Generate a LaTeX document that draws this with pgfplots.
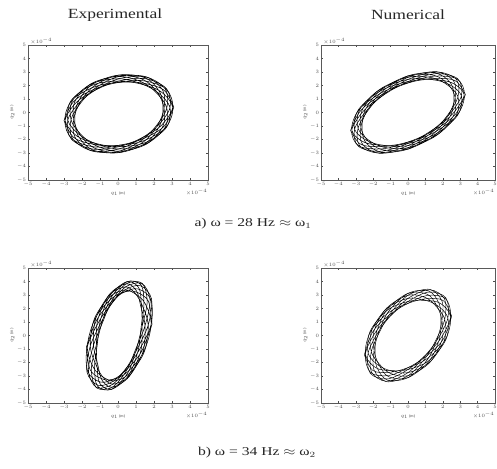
\documentclass[border=0pt]{standalone}
\usepackage{pgfplots}
\pgfplotsset{compat=1.18}
\usepackage{graphicx}
\usepackage{fontspec}
\setmainfont{Liberation Serif}

\tikzset{expo/.style={font=\fontsize{3.6}{4}\selectfont, text=black!70, inner sep=0.5pt}}
\pgfplotsset{
  phase/.style={
    scale only axis, width=180pt, height=135pt,
    anchor=south west, clip=false,
    xmin=-5, xmax=5, ymin=-5, ymax=5,
    xtick={-5,...,5}, ytick={-5,...,5},
    scaled ticks=false,
    tick align=inside, major tick length=1.6pt,
    tick style={line width=0.3pt, black!70},
    axis line style={line width=0.45pt, black!65},
    tick label style={font=\fontsize{3.6}{4}\selectfont, text=black!70},
    xticklabel style={yshift=1.5pt},
    yticklabel style={xshift=1.5pt},
    xlabel={$q_1$ (m)}, ylabel={$q_2$ (m)},
    label style={font=\fontsize{4.2}{5}\selectfont, text=black!70},
    xlabel style={yshift=1.5pt},
    ylabel style={yshift=-4pt},
    cycle list={{black}},
    every axis plot post/.append style={black, line width=0.55pt, smooth, tension=0.55, mark=none},
  },
}

\begin{document}
\begin{tikzpicture}[x=1pt,y=1pt]
\useasboundingbox (0,0) rectangle (497,468);

% --- a) experimental orbit, 28 Hz
\begin{axis}[phase, at={(28pt,288pt)}]
\addplot coordinates {
(3.10,0.40) (2.54,1.67) (1.32,2.19) (0.05,2.23) (-1.31,1.90) (-2.56,0.90) (-2.94,-0.59) (-2.28,-1.75) (-1.18,-2.31) (0.05,-2.53) (1.50,-2.24) (2.69,-1.11)
(2.89,0.37) (2.24,1.45) (1.29,2.13) (0.05,2.50) (-1.46,2.13) (-2.53,0.88) (-2.61,-0.53) (-2.07,-1.61) (-1.25,-2.44) (0.05,-2.87) (1.57,-2.35) (2.49,-1.03)
(2.56,0.31) (2.21,1.43) (1.44,2.41) (0.05,2.77) (-1.43,2.08) (-2.22,0.77) (-2.40,-0.50) (-2.22,-1.71) (-1.43,-2.76) (0.05,-2.97) (1.44,-2.15) (2.21,-0.92)
(2.56,0.31) (2.49,1.63) (1.57,2.64) (0.05,2.67) (-1.25,1.82) (-2.07,0.71) (-2.61,-0.53) (-2.53,-1.93) (-1.46,-2.83) (0.05,-2.70) (1.29,-1.92) (2.24,-0.94)
(2.89,0.37) (2.69,1.77) (1.50,2.51) (0.05,2.33) (-1.18,1.71) (-2.28,0.79) (-2.94,-0.59) (-2.56,-1.95) (-1.31,-2.55) (0.05,-2.43) (1.32,-1.98) (2.54,-1.05)
(3.10,0.40)
};
\addplot coordinates {
(-3.00,-0.60) (-2.44,-1.87) (-1.22,-2.39) (0.05,-2.43) (1.41,-2.10) (2.66,-1.10) (3.04,0.39) (2.38,1.55) (1.28,2.11) (0.05,2.33) (-1.40,2.04) (-2.59,0.91)
(-2.79,-0.57) (-2.14,-1.65) (-1.19,-2.33) (0.05,-2.70) (1.56,-2.33) (2.63,-1.08) (2.71,0.33) (2.17,1.41) (1.35,2.24) (0.05,2.67) (-1.47,2.15) (-2.39,0.83)
(-2.46,-0.51) (-2.11,-1.63) (-1.34,-2.61) (0.05,-2.97) (1.53,-2.28) (2.32,-0.97) (2.50,0.30) (2.32,1.51) (1.53,2.56) (0.05,2.77) (-1.34,1.95) (-2.11,0.72)
(-2.46,-0.51) (-2.39,-1.83) (-1.47,-2.84) (0.05,-2.87) (1.35,-2.02) (2.17,-0.91) (2.71,0.33) (2.63,1.73) (1.56,2.63) (0.05,2.50) (-1.19,1.72) (-2.14,0.74)
(-2.79,-0.57) (-2.59,-1.97) (-1.40,-2.71) (0.05,-2.53) (1.28,-1.91) (2.38,-0.99) (3.04,0.39) (2.66,1.75) (1.41,2.35) (0.05,2.23) (-1.22,1.78) (-2.44,0.85)
(-3.00,-0.60)
};
\node[expo, anchor=south west] at (rel axis cs:0.01,1) {$\times10^{-4}$};
\node[expo, anchor=north east] at (rel axis cs:1,0) [yshift=-8pt] {$\times10^{-4}$};
\end{axis}

% --- a) numerical orbit, 28 Hz
\begin{axis}[phase, at={(321pt,288pt)}, width=174pt,
  every axis plot post/.append style={line width=0.5pt}]
\addplot coordinates {
(3.30,1.33) (2.69,2.37) (1.38,2.52) (0,2.19) (-1.47,1.50) (-2.82,0.20) (-3.23,-1.31) (-2.51,-2.21) (-1.32,-2.43) (0,-2.29) (1.57,-1.61) (2.85,-0.21)
(3.07,1.24) (2.36,2.08) (1.34,2.45) (0,2.45) (-1.64,1.68) (-2.78,0.20) (-2.87,-1.16) (-2.29,-2.02) (-1.40,-2.57) (0,-2.61) (1.65,-1.69) (2.63,-0.19)
(2.71,1.09) (2.33,2.05) (1.50,2.75) (0,2.71) (-1.59,1.63) (-2.46,0.18) (-2.64,-1.07) (-2.46,-2.16) (-1.59,-2.92) (0,-2.71) (1.50,-1.54) (2.33,-0.17)
(2.71,1.09) (2.63,2.32) (1.65,3.02) (0,2.61) (-1.40,1.44) (-2.29,0.17) (-2.87,-1.16) (-2.78,-2.45) (-1.64,-3.00) (0,-2.45) (1.34,-1.37) (2.36,-0.17)
(3.07,1.24) (2.85,2.51) (1.57,2.87) (0,2.29) (-1.32,1.36) (-2.51,0.18) (-3.23,-1.31) (-2.82,-2.48) (-1.47,-2.69) (0,-2.19) (1.38,-1.41) (2.69,-0.19)
(3.30,1.33)
};
\addplot coordinates {
(-3.30,-1.33) (-2.69,-2.37) (-1.38,-2.52) (0,-2.19) (1.47,-1.50) (2.82,-0.20) (3.23,1.31) (2.51,2.21) (1.32,2.43) (0,2.29) (-1.57,1.61) (-2.85,0.21)
(-3.07,-1.24) (-2.36,-2.08) (-1.34,-2.45) (0,-2.45) (1.64,-1.68) (2.78,-0.20) (2.87,1.16) (2.29,2.02) (1.40,2.57) (0,2.61) (-1.65,1.69) (-2.63,0.19)
(-2.71,-1.09) (-2.33,-2.05) (-1.50,-2.75) (0,-2.71) (1.59,-1.63) (2.46,-0.18) (2.64,1.07) (2.46,2.16) (1.59,2.92) (0,2.71) (-1.50,1.54) (-2.33,0.17)
(-2.71,-1.09) (-2.63,-2.32) (-1.65,-3.02) (0,-2.61) (1.40,-1.44) (2.29,-0.17) (2.87,1.16) (2.78,2.45) (1.64,3.00) (0,2.45) (-1.34,1.37) (-2.36,0.17)
(-3.07,-1.24) (-2.85,-2.51) (-1.57,-2.87) (0,-2.29) (1.32,-1.36) (2.51,-0.18) (3.23,1.31) (2.82,2.48) (1.47,2.69) (0,2.19) (-1.38,1.41) (-2.69,0.19)
(-3.30,-1.33)
};
\node[expo, anchor=south west] at (rel axis cs:0.01,1) {$\times10^{-4}$};
\node[expo, anchor=north east] at (rel axis cs:1,0) [yshift=-8pt] {$\times10^{-4}$};
\end{axis}

% --- b) experimental orbit, 34 Hz
\begin{axis}[phase, at={(28pt,65pt)}]
\addplot coordinates {
(1.89,0.83) (1.68,2.56) (0.99,3.23) (0.35,3.22) (-0.38,2.71) (-1.27,1.26) (-1.70,-0.82) (-1.36,-2.39) (-0.78,-3.12) (-0.24,-3.37) (0.57,-2.89) (1.44,-1.28)
(1.68,0.78) (1.34,2.25) (0.94,3.14) (0.42,3.60) (-0.47,3.02) (-1.24,1.24) (-1.36,-0.72) (-1.12,-2.18) (-0.89,-3.30) (-0.32,-3.83) (0.62,-3.04) (1.26,-1.18)
(1.34,0.68) (1.30,2.22) (1.16,3.53) (0.49,3.98) (-0.45,2.95) (-0.98,1.10) (-1.15,-0.67) (-1.30,-2.34) (-1.14,-3.75) (-0.35,-3.98) (0.54,-2.78) (1.01,-1.04)
(1.34,0.68) (1.62,2.51) (1.34,3.87) (0.46,3.83) (-0.34,2.59) (-0.84,1.02) (-1.36,-0.72) (-1.64,-2.65) (-1.19,-3.85) (-0.28,-3.60) (0.44,-2.47) (1.04,-1.06)
(1.68,0.78) (1.86,2.72) (1.24,3.69) (0.38,3.37) (-0.30,2.45) (-1.02,1.12) (-1.70,-0.82) (-1.68,-2.68) (-0.97,-3.45) (-0.21,-3.22) (0.47,-2.54) (1.30,-1.20)
(1.89,0.83)
};
\addplot coordinates {
(-1.75,-0.83) (-1.54,-2.56) (-0.85,-3.23) (-0.21,-3.22) (0.52,-2.71) (1.41,-1.26) (1.84,0.82) (1.50,2.39) (0.92,3.12) (0.38,3.37) (-0.43,2.89) (-1.30,1.28)
(-1.54,-0.78) (-1.20,-2.25) (-0.80,-3.14) (-0.28,-3.60) (0.61,-3.02) (1.38,-1.24) (1.50,0.72) (1.26,2.18) (1.03,3.30) (0.46,3.83) (-0.48,3.04) (-1.12,1.18)
(-1.20,-0.68) (-1.16,-2.22) (-1.02,-3.53) (-0.35,-3.98) (0.59,-2.95) (1.12,-1.10) (1.29,0.67) (1.44,2.34) (1.28,3.75) (0.49,3.98) (-0.40,2.78) (-0.87,1.04)
(-1.20,-0.68) (-1.48,-2.51) (-1.20,-3.87) (-0.32,-3.83) (0.48,-2.59) (0.98,-1.02) (1.50,0.72) (1.78,2.65) (1.33,3.85) (0.42,3.60) (-0.30,2.47) (-0.90,1.06)
(-1.54,-0.78) (-1.72,-2.72) (-1.10,-3.69) (-0.24,-3.37) (0.44,-2.45) (1.16,-1.12) (1.84,0.82) (1.82,2.68) (1.11,3.45) (0.35,3.22) (-0.33,2.54) (-1.16,1.20)
(-1.75,-0.83)
};
\node[expo, anchor=south west] at (rel axis cs:0.01,1) {$\times10^{-4}$};
\node[expo, anchor=north east] at (rel axis cs:1,0) [yshift=-8pt] {$\times10^{-4}$};
\end{axis}

% --- b) numerical orbit, 34 Hz
\begin{axis}[phase, at={(321pt,65pt)}, width=174pt,
  every axis plot post/.append style={line width=0.45pt}]
\addplot coordinates {
(2.51,1.43) (2.01,2.60) (1.00,2.72) (0,2.38) (-1.08,1.73) (-2.14,0.33) (-2.45,-1.39) (-1.85,-2.39) (-0.95,-2.60) (0,-2.52) (1.18,-1.88) (2.17,-0.33)
(2.29,1.30) (1.71,2.20) (0.96,2.62) (0,2.75) (-1.24,1.98) (-2.10,0.32) (-2.11,-1.20) (-1.64,-2.12) (-1.02,-2.80) (0,-2.98) (1.25,-2.00) (1.96,-0.30)
(1.95,1.11) (1.67,2.16) (1.12,3.05) (0,3.12) (-1.20,1.92) (-1.80,0.28) (-1.89,-1.08) (-1.80,-2.32) (-1.20,-3.29) (0,-3.12) (1.12,-1.78) (1.67,-0.26)
(1.95,1.11) (1.96,2.53) (1.25,3.42) (0,2.98) (-1.02,1.63) (-1.64,0.25) (-2.11,-1.20) (-2.10,-2.71) (-1.24,-3.39) (0,-2.75) (0.96,-1.53) (1.71,-0.26)
(2.29,1.30) (2.17,2.80) (1.18,3.22) (0,2.52) (-0.95,1.52) (-1.85,0.28) (-2.45,-1.39) (-2.14,-2.76) (-1.08,-2.96) (0,-2.38) (1.00,-1.59) (2.01,-0.31)
(2.51,1.43)
};
\addplot coordinates {
(-2.51,-1.43) (-2.01,-2.60) (-1.00,-2.72) (0,-2.38) (1.08,-1.73) (2.14,-0.33) (2.45,1.39) (1.85,2.39) (0.95,2.60) (0,2.52) (-1.18,1.88) (-2.17,0.33)
(-2.29,-1.30) (-1.71,-2.20) (-0.96,-2.62) (0,-2.75) (1.24,-1.98) (2.10,-0.32) (2.11,1.20) (1.64,2.12) (1.02,2.80) (0,2.98) (-1.25,2.00) (-1.96,0.30)
(-1.95,-1.11) (-1.67,-2.16) (-1.12,-3.05) (0,-3.12) (1.20,-1.92) (1.80,-0.28) (1.89,1.08) (1.80,2.32) (1.20,3.29) (0,3.12) (-1.12,1.78) (-1.67,0.26)
(-1.95,-1.11) (-1.96,-2.53) (-1.25,-3.42) (0,-2.98) (1.02,-1.63) (1.64,-0.25) (2.11,1.20) (2.10,2.71) (1.24,3.39) (0,2.75) (-0.96,1.53) (-1.71,0.26)
(-2.29,-1.30) (-2.17,-2.80) (-1.18,-3.22) (0,-2.52) (0.95,-1.52) (1.85,-0.28) (2.45,1.39) (2.14,2.76) (1.08,2.96) (0,2.38) (-1.00,1.59) (-2.01,0.31)
(-2.51,-1.43)
};
\node[expo, anchor=south west] at (rel axis cs:0.01,1) {$\times10^{-4}$};
\node[expo, anchor=north east] at (rel axis cs:1,0) [yshift=-8pt] {$\times10^{-4}$};
\end{axis}

% column headings and captions
\node[font=\fontsize{14}{16}\selectfont, text=black!85] at (115,453) {\scalebox{1.25}[1]{Experimental}};
\node[font=\fontsize{14}{16}\selectfont, text=black!85] at (408,453) {\scalebox{1.25}[1]{Numerical}};
\node[font=\fontsize{12}{14}\selectfont, text=black!85] at (253,244) {\scalebox{1.3}[1]{a) ω = 28 Hz $\approx$ ω$_1$}};
\node[font=\fontsize{12}{14}\selectfont, text=black!85] at (257,15) {\scalebox{1.3}[1]{b) ω = 34 Hz $\approx$ ω$_2$}};
\end{tikzpicture}
\end{document}
